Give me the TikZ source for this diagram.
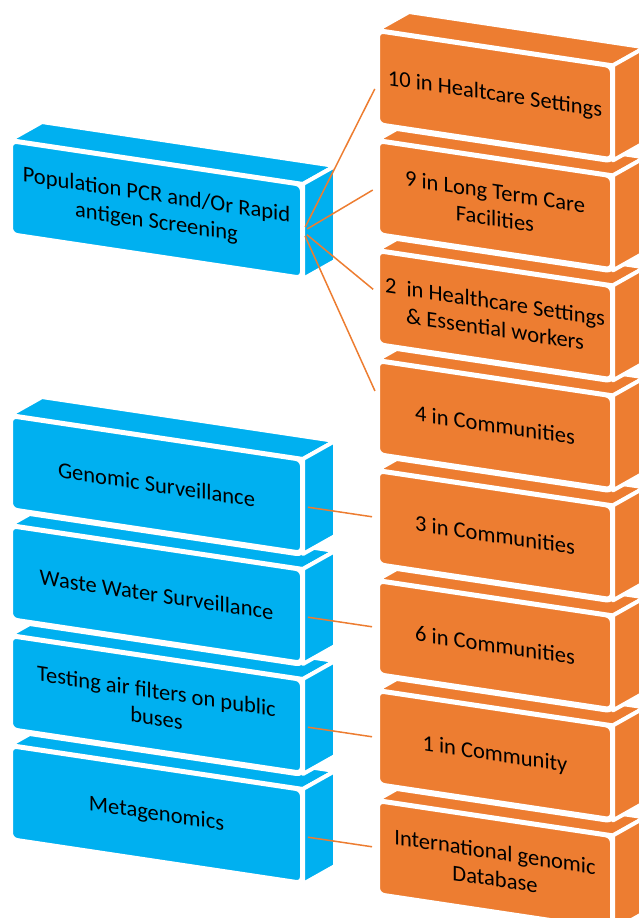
\documentclass[tikz,border=0pt]{standalone}
\usepackage{fontspec}
\setmainfont{Carlito}
\usetikzlibrary{positioning,calc}
\definecolor{bluebox}{HTML}{00B0F0}
\definecolor{orangebox}{HTML}{ED7D31}
% top and side face of a box
\newcommand{\boxfaces}[2]{%
  \fill[#2,draw=white,line width=4pt,line join=round]
    (#1.north west) -- ++(32,18) -- ($(#1.north east)+(32,18)$) -- (#1.north east) -- cycle;
  \fill[#2,draw=white,line width=4pt,line join=round]
    (#1.north east) -- ++(32,18) -- ($(#1.south east)+(32,18)$) -- (#1.south east) -- cycle;
}

\begin{document}
\begin{tikzpicture}[x=1pt,y=1pt,
  front/.style={draw=white,line width=6pt,rounded corners=7pt,yslant=-0.15,
    minimum height=95pt,inner sep=2pt,outer sep=0pt,align=center,
    font=\fontsize{22.5}{27}\selectfont},
  bluefront/.style={front,fill=bluebox,minimum width=293pt},
  orangefront/.style={front,fill=orangebox,minimum width=236pt},
  link/.style={draw=orangebox,line width=1.5pt,shorten <=5pt,shorten >=5pt}]
  \useasboundingbox (0,0) rectangle (639,-918);
  \clip (0,0) rectangle (639,-918);

  % right column, bottom to top
  \node[orangefront] (db) at (495,-865.2) {International genomic\\Database};
  \boxfaces{db}{orangebox}
  \node[orangefront,above=15pt of db] (c1) {1 in Community};
  \boxfaces{c1}{orangebox}
  \node[orangefront,above=15pt of c1] (c6) {6 in Communities};
  \boxfaces{c6}{orangebox}
  \node[orangefront,above=15pt of c6] (c3) {3 in Communities};
  \boxfaces{c3}{orangebox}
  \node[orangefront,above=15pt of c3] (c4) {4 in Communities};
  \boxfaces{c4}{orangebox}
  \node[orangefront,above=15pt of c4] (h2) {2~ in Healthcare Settings\\\& Essential workers};
  \boxfaces{h2}{orangebox}
  \node[orangefront,above=15pt of h2] (h9) {9 in Long Term Care\\Facilities};
  \boxfaces{h9}{orangebox}
  \node[orangefront,above=15pt of h9] (h10) {10 in Healtcare Settings};
  \boxfaces{h10}{orangebox}

  % left column
  \node[bluefront] (meta) at (156.5,-814.5) {Metagenomics};
  \boxfaces{meta}{bluebox}
  \node[bluefront,above=15pt of meta] (air) {Testing air filters on public\\buses};
  \boxfaces{air}{bluebox}
  \node[bluefront,above=15pt of air] (ww) {Waste Water Surveillance};
  \boxfaces{ww}{bluebox}
  \node[bluefront,above=15pt of ww] (gen) {Genomic Surveillance};
  \boxfaces{gen}{bluebox}
  \node[bluefront] (pop) at (156.5,-209.5) {Population PCR and/Or Rapid\\antigen Screening};
  \boxfaces{pop}{bluebox}

  \draw[link] (pop.east) -- ([yshift=-7pt]h10.west);
  \draw[link] (pop.east) -- (h9.west);
  \draw[link] (pop.east) -- ([yshift=5pt]h2.west);
  \draw[link] (pop.east) -- ([yshift=12pt]c4.west);
  \draw[link] (gen.east) -- (c3.west);
  \draw[link] (ww.east) -- (c6.west);
  \draw[link] (air.east) -- (c1.west);
  \draw[link] (meta.east) -- (db.west);
\end{tikzpicture}
\end{document}
